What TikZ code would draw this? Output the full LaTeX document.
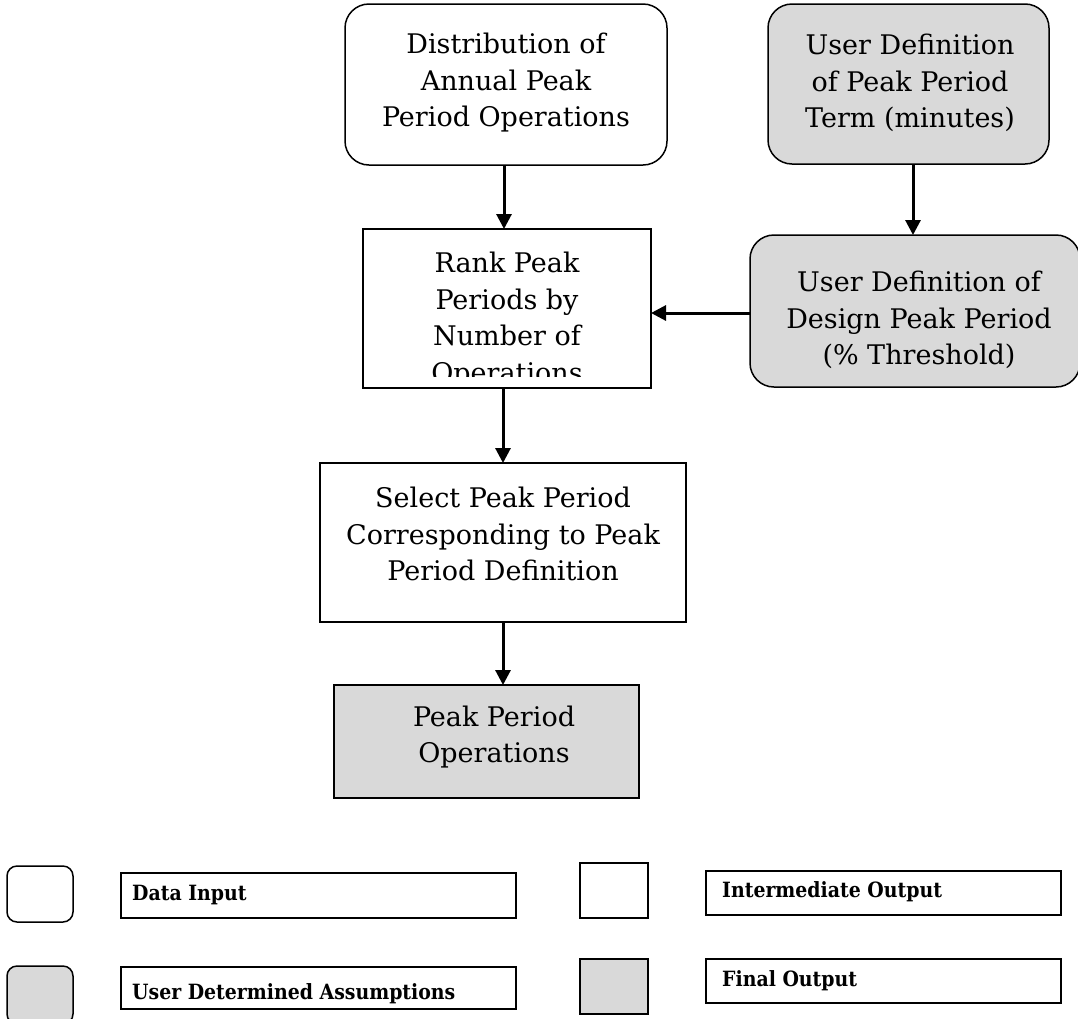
\documentclass[tikz,border=0pt]{standalone}
\usepackage{fontspec}
\setmainfont{DejaVu Serif}[BoldFont={DejaVu Serif Condensed Bold}]
\usetikzlibrary{arrows.meta}
\definecolor{boxgray}{HTML}{D9D9D9}
\tikzset{
  flowbox/.style={draw=black, line width=1.5pt, inner sep=0pt, outer sep=0pt, anchor=north west},
  inputbox/.style={flowbox, rounded corners=24pt, fill=white},
  userbox/.style={flowbox, rounded corners=24pt, fill=boxgray},
  interbox/.style={flowbox, fill=white},
  finalbox/.style={flowbox, fill=boxgray},
  boxtext/.style={align=center, inner sep=0pt, font=\fontsize{27}{36.5}\selectfont},
  arr/.style={line width=3pt, -{Triangle[length=15pt,width=15pt]}},
  keyround/.style={flowbox, rounded corners=10pt},
  keysquare/.style={flowbox},
  keyframe/.style={flowbox, fill=white},
  keytext/.style={font=\bfseries\fontsize{21}{25}\selectfont, anchor=base west, inner sep=0pt},
}
\begin{document}
\begin{tikzpicture}[x=1pt, y=-1pt]
  \useasboundingbox (0,0) rectangle (1078,1018);
  \clip (0,0) rectangle (1078,1018);
  \fill[white] (0,0) rectangle (1078,1018);

  % flow chart boxes
  \node[inputbox, minimum width=322pt, minimum height=161pt] (dist) at (345,4) {};
  \node[userbox, minimum width=281pt, minimum height=160pt] (term) at (768,4) {};
  \node[interbox, minimum width=288pt, minimum height=159pt] (rank) at (363,229) {};
  \node[userbox, minimum width=330pt, minimum height=152pt] (design) at (750,235) {};
  \node[interbox, minimum width=366pt, minimum height=159pt] (select) at (320,463) {};
  \node[finalbox, minimum width=305pt, minimum height=113pt] (final) at (334,685) {};

  % box texts
  \node[boxtext] (disttext) at (506,83) {Distribution of\\Annual Peak\\Period Operations};
  \node[boxtext] (termtext) at (910,83) {User Definition\\of Peak Period\\Term (minutes)};
  \begin{scope}
    \clip (363,229) rectangle (651,376);
    \node[boxtext] (ranktext) at (507,320) {Rank Peak\\Periods by\\Number of\\Operations};
  \end{scope}
  \node[boxtext] (designtext) at (919,320) {User Definition of\\Design Peak Period\\(\% Threshold)};
  \node[boxtext] (selecttext) at (503,534) {Select Peak Period\\Corresponding to Peak\\Period Definition};
  \node[boxtext] (finaltext) at (494,737) {Peak Period\\Operations};

  % connectors
  \draw[arr] ([xshift=-2pt]dist.south) -- ([xshift=-2pt]dist.south |- rank.north);
  \draw[arr] ([xshift=4.5pt]term.south) -- ([xshift=4.5pt]term.south |- design.north);
  \draw[arr] ([yshift=-2pt]design.west) -- ([yshift=-2pt]design.west -| rank.east);
  \draw[arr] ([xshift=-4pt]rank.south) -- ([xshift=-4pt]rank.south |- select.north);
  \draw[arr] (select.south) -- (select.south |- final.north);

  % legend
  \node[keyround, fill=white, minimum width=66pt, minimum height=56pt] (keyinput) at (7,866) {};
  \node[keyround, fill=boxgray, minimum width=66pt, minimum height=58pt] (keyuser) at (7,966) {};
  \node[keysquare, fill=white, minimum width=68pt, minimum height=55pt] (keyinter) at (580,863) {};
  \node[keysquare, fill=boxgray, minimum width=68pt, minimum height=55pt] (keyfinal) at (580,959) {};

  \node[keyframe, minimum width=395pt, minimum height=45pt] (frameinput) at (121,873) {};
  \node[keyframe, minimum width=395pt, minimum height=42pt] (frameuser) at (121,967) {};
  \node[keyframe, minimum width=355pt, minimum height=44pt] (frameinter) at (706,871) {};
  \node[keyframe, minimum width=355pt, minimum height=44pt] (framefinal) at (706,959) {};

  \node[keytext] (labinput) at (132,900) {Data Input};
  \node[keytext] (labuser) at (132,999) {User Determined Assumptions};
  \node[keytext] (labinter) at (722,897) {Intermediate Output};
  \node[keytext] (labfinal) at (722,986) {Final Output};
\end{tikzpicture}
\end{document}
